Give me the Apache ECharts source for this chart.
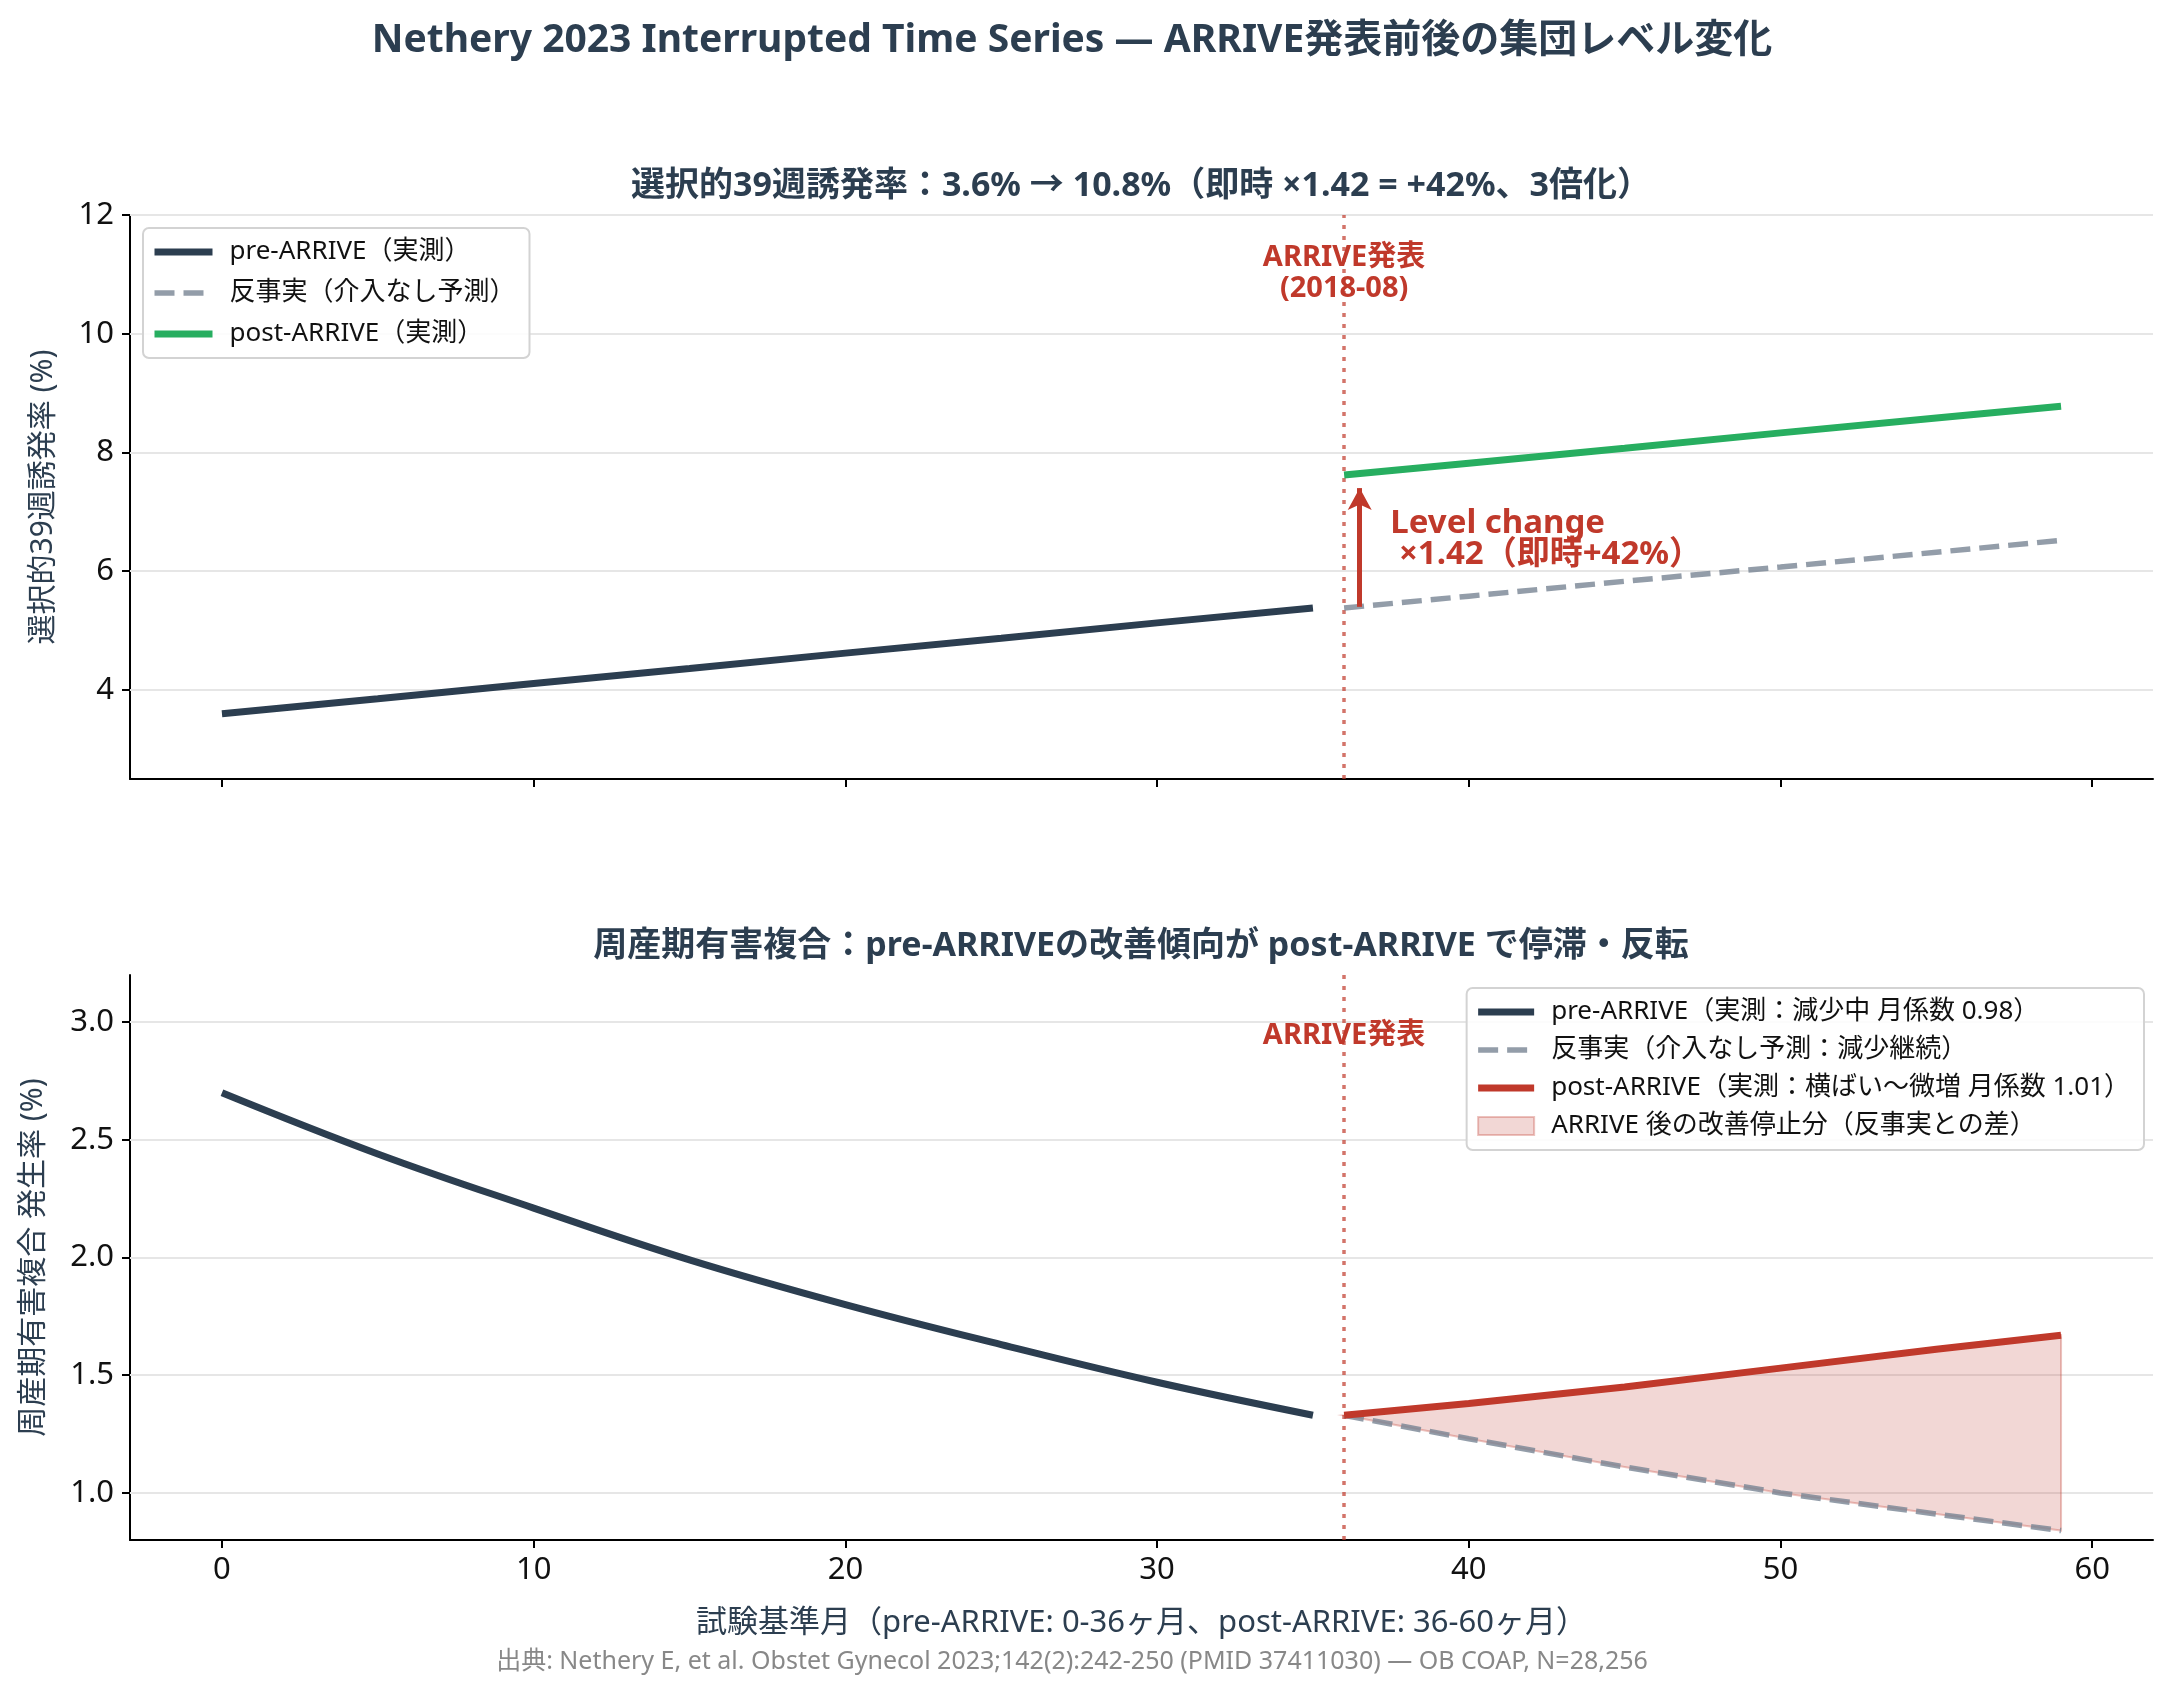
<!DOCTYPE html>
<html>
<head>
<meta charset="utf-8">
<title>Nethery 2023 Interrupted Time Series</title>
<script src="https://cdn.jsdelivr.net/npm/echarts@6/dist/echarts.min.js"></script>
<style>
  html, body { margin: 0; padding: 0; background: #fff; }
  #chart { width: 2174px; height: 1693px; }
</style>
</head>
<body>
<div id="chart"></div>
<script>
// months since trial baseline (ARRIVE published at month 36)
const monthsPre = [0, 5, 10, 15, 20, 25, 30, 35];
const monthsPost = [36, 40, 45, 50, 55, 59];

// 選択的39週誘発率 (%)
const inductionPre = [3.60, 3.85, 4.11, 4.36, 4.62, 4.87, 5.13, 5.38];
const inductionCf = [5.38, 5.58, 5.83, 6.07, 6.32, 6.52];
const inductionPost = [7.62, 7.82, 8.07, 8.33, 8.58, 8.78];

// 周産期有害複合 発生率 (%)
const compositePre = [2.70, 2.44, 2.21, 1.99, 1.80, 1.63, 1.47, 1.33];
const compositeCf = [1.33, 1.23, 1.11, 1.00, 0.91, 0.84];
const compositePost = [1.33, 1.38, 1.45, 1.53, 1.61, 1.67];

const xTicks = [0, 10, 20, 30, 40, 50, 60];
const inductionTicks = [4, 6, 8, 10, 12];
const compositeTicks = [1.0, 1.5, 2.0, 2.5, 3.0];
const arriveMonth = 36;

const FONT = '"Noto Sans", "Noto Sans CJK JP", sans-serif';
const NAVY = '#2c3e50';
const GREEN = '#27ae60';
const RED = '#c0392b';
const GREY = 'rgba(120,132,148,0.8)';
const DASH = [20, 9];

const chart = echarts.init(document.getElementById('chart'), null, { renderer: 'canvas' });

function zip(xs, ys) {
  return xs.map((x, i) => [x, ys[i]]);
}

function gridLines(ticks) {
  return ticks.map(v => ({ yAxis: v, lineStyle: { color: '#e6e6e6', width: 2, type: 'solid' } }));
}

// legend entries for line series: line only, no symbol
function lineItem(name) {
  return { name: name, itemStyle: { color: 'rgba(0,0,0,0)', borderColor: 'rgba(0,0,0,0)', borderWidth: 0, opacity: 0 } };
}

const vline = { xAxis: arriveMonth, lineStyle: { color: 'rgba(192,57,43,0.7)', width: 3.5, type: [4, 7] } };

function xAxisCfg(gridIndex, showLabels) {
  return {
    type: 'value', gridIndex: gridIndex, min: -2.95, max: 61.95,
    axisLine: { show: true, onZero: false, lineStyle: { color: '#000', width: 2 } },
    axisTick: { show: true, customValues: xTicks, length: 8, lineStyle: { color: '#000', width: 2 } },
    axisLabel: { show: showLabels, customValues: xTicks, fontSize: 31, color: '#111', margin: 15, fontFamily: FONT },
    splitLine: { show: false }
  };
}

function yAxisCfg(gridIndex, min, max, ticks, fmt, name, gap) {
  return {
    type: 'value', gridIndex: gridIndex, min: min, max: max,
    name: name, nameLocation: 'middle', nameGap: gap,
    nameTextStyle: { fontSize: 30, color: NAVY, fontFamily: FONT },
    axisLine: { show: true, onZero: false, lineStyle: { color: '#000', width: 2 } },
    axisTick: { show: true, customValues: ticks, length: 8, lineStyle: { color: '#000', width: 2 } },
    axisLabel: { customValues: ticks, formatter: fmt, fontSize: 31, color: '#111', margin: 16, fontFamily: FONT },
    splitLine: { show: false }
  };
}

const legendBase = {
  orient: 'vertical',
  itemWidth: 58, itemHeight: 18,
  padding: [10, 14, 10, 8],
  backgroundColor: 'rgba(255,255,255,0.85)', borderColor: '#d3d3d3', borderWidth: 2, borderRadius: 6,
  lineStyle: { width: 'inherit', type: 'inherit' },
  textStyle: { fontSize: 26, color: '#111', lineHeight: 28, padding: [0, 0, 0, 12], fontFamily: FONT }
};

const option = {
  animation: false,
  backgroundColor: '#fff',
  textStyle: { fontFamily: FONT },
  graphic: [
    { type: 'text', style: { text: 'Nethery 2023 Interrupted Time Series — ARRIVE発表前後の集団レベル変化', x: 1072, y: 41, align: 'center', verticalAlign: 'middle', font: 'bold 39px ' + FONT, fill: NAVY } },
    { type: 'text', style: { text: '選択的39週誘発率：3.6% → 10.8%（即時 ×1.42 = +42%、3倍化）', x: 1141, y: 186, align: 'center', verticalAlign: 'middle', font: 'bold 34px ' + FONT, fill: NAVY } },
    { type: 'text', style: { text: '周産期有害複合：pre-ARRIVEの改善傾向が post-ARRIVE で停滞・反転', x: 1141, y: 946, align: 'center', verticalAlign: 'middle', font: 'bold 34px ' + FONT, fill: NAVY } },
    { type: 'text', style: { text: '出典: Nethery E, et al. Obstet Gynecol 2023;142(2):242-250 (PMID 37411030) — OB COAP, N=28,256', x: 1072, y: 1662, align: 'center', verticalAlign: 'middle', font: '25px ' + FONT, fill: '#888' } }
  ],
  grid: [
    { left: 130, right: 21, top: 215, height: 564 },
    { left: 130, right: 21, top: 975, height: 565 }
  ],
  legend: [
    Object.assign({}, legendBase, {
      left: 143, top: 228, itemGap: 13,
      data: [lineItem('pre-ARRIVE（実測）'), lineItem('反事実（介入なし予測）'), lineItem('post-ARRIVE（実測）')]
    }),
    Object.assign({}, legendBase, {
      right: 30, top: 988, itemGap: 10, itemWidth: 56,
      data: [
        lineItem('pre-ARRIVE（実測：減少中 月係数 0.98）'),
        lineItem('反事実（介入なし予測：減少継続）'),
        lineItem('post-ARRIVE（実測：横ばい〜微増 月係数 1.01）'),
        { name: 'ARRIVE 後の改善停止分（反事実との差）', icon: 'rect', itemStyle: { color: 'rgba(192,57,43,0.2)', borderColor: 'rgba(192,57,43,0.3)', borderWidth: 2 } }
      ]
    })
  ],
  xAxis: [xAxisCfg(0, false), Object.assign(xAxisCfg(1, true), {
    name: '試験基準月（pre-ARRIVE: 0-36ヶ月、post-ARRIVE: 36-60ヶ月）', nameLocation: 'middle', nameGap: 68,
    nameTextStyle: { fontSize: 31, color: NAVY, fontFamily: FONT }
  })],
  yAxis: [
    yAxisCfg(0, 2.5, 12, inductionTicks, v => String(v), '選択的39週誘発率 (%)', 72),
    yAxisCfg(1, 0.8, 3.2, compositeTicks, v => v.toFixed(1), '周産期有害複合 発生率 (%)', 82)
  ],
  series: [
    // grid lines, ARRIVE marker and annotations – top panel
    {
      name: 'guides-top', type: 'line', xAxisIndex: 0, yAxisIndex: 0, data: [], silent: true,
      markLine: { silent: true, z: 1, symbol: 'none', label: { show: false }, data: gridLines(inductionTicks).concat([vline]) },
      markPoint: {
        silent: true, symbol: 'circle', symbolSize: 1, itemStyle: { color: 'transparent' },
        data: [
          { coord: [arriveMonth, 11.02], label: { show: true, position: 'inside', formatter: 'ARRIVE発表\n(2018-08)', color: RED, fontWeight: 'bold', fontSize: 29, lineHeight: 31, align: 'center', fontFamily: FONT } },
          { coord: [37.5, 6.53], label: { show: true, position: [0, 0], formatter: 'Level change\n ×1.42（即時+42%）', color: RED, fontWeight: 'bold', fontSize: 33, lineHeight: 31, align: 'left', verticalAlign: 'middle', fontFamily: FONT } }
        ]
      }
    },
    {
      name: 'pre-ARRIVE（実測）', type: 'line', xAxisIndex: 0, yAxisIndex: 0, z: 3,
      data: zip(monthsPre, inductionPre), showSymbol: false, symbol: 'none',
      lineStyle: { color: NAVY, width: 7 }, itemStyle: { color: NAVY }
    },
    {
      name: '反事実（介入なし予測）', type: 'line', xAxisIndex: 0, yAxisIndex: 0, z: 3,
      data: zip(monthsPost, inductionCf), showSymbol: false, symbol: 'none',
      lineStyle: { color: GREY, width: 5.5, type: DASH }, itemStyle: { color: GREY }
    },
    {
      name: 'post-ARRIVE（実測）', type: 'line', xAxisIndex: 0, yAxisIndex: 0, z: 3,
      data: zip(monthsPost, inductionPost), showSymbol: false, symbol: 'none',
      lineStyle: { color: GREEN, width: 7 }, itemStyle: { color: GREEN }
    },
    {
      name: 'level-arrow', type: 'line', xAxisIndex: 0, yAxisIndex: 0, data: [], silent: true,
      markLine: {
        silent: true, z: 6, symbol: ['none', 'arrow'], symbolSize: [18, 22], label: { show: false },
        lineStyle: { color: RED, width: 5, type: 'solid' },
        data: [[{ coord: [36.5, 5.40] }, { coord: [36.5, 7.40] }]]
      }
    },
    // bottom panel
    {
      name: 'guides-bottom', type: 'line', xAxisIndex: 1, yAxisIndex: 1, data: [], silent: true,
      markLine: { silent: true, z: 1, symbol: 'none', label: { show: false }, data: gridLines(compositeTicks).concat([vline]) },
      markPoint: {
        silent: true, symbol: 'circle', symbolSize: 1, itemStyle: { color: 'transparent' },
        data: [
          { coord: [arriveMonth, 2.94], label: { show: true, position: 'inside', formatter: 'ARRIVE発表', color: RED, fontWeight: 'bold', fontSize: 29, align: 'center', fontFamily: FONT } }
        ]
      }
    },
    {
      name: 'ARRIVE 後の改善停止分（反事実との差）', type: 'custom', xAxisIndex: 1, yAxisIndex: 1, z: 2,
      data: [[monthsPost[0], compositePost[0]]],
      itemStyle: { color: 'rgba(192,57,43,0.2)', borderColor: 'rgba(192,57,43,0.3)', borderWidth: 2 },
      renderItem: function (params, api) {
        const top = monthsPost.map((m, i) => api.coord([m, compositePost[i]]));
        const bottom = monthsPost.map((m, i) => api.coord([m, compositeCf[i]])).reverse();
        return {
          type: 'polygon',
          shape: { points: top.concat(bottom) },
          style: { fill: 'rgba(192,57,43,0.2)', stroke: 'rgba(192,57,43,0.3)', lineWidth: 2 }
        };
      }
    },
    {
      name: 'pre-ARRIVE（実測：減少中 月係数 0.98）', type: 'line', xAxisIndex: 1, yAxisIndex: 1, z: 3,
      data: zip(monthsPre, compositePre), showSymbol: false, symbol: 'none', smooth: 0.4,
      lineStyle: { color: NAVY, width: 7 }, itemStyle: { color: NAVY }
    },
    {
      name: '反事実（介入なし予測：減少継続）', type: 'line', xAxisIndex: 1, yAxisIndex: 1, z: 3,
      data: zip(monthsPost, compositeCf), showSymbol: false, symbol: 'none',
      lineStyle: { color: GREY, width: 5.5, type: DASH }, itemStyle: { color: GREY }
    },
    {
      name: 'post-ARRIVE（実測：横ばい〜微増 月係数 1.01）', type: 'line', xAxisIndex: 1, yAxisIndex: 1, z: 3,
      data: zip(monthsPost, compositePost), showSymbol: false, symbol: 'none',
      lineStyle: { color: RED, width: 7 }, itemStyle: { color: RED }
    }
  ]
};

chart.setOption(option);
</script>
</body>
</html>
